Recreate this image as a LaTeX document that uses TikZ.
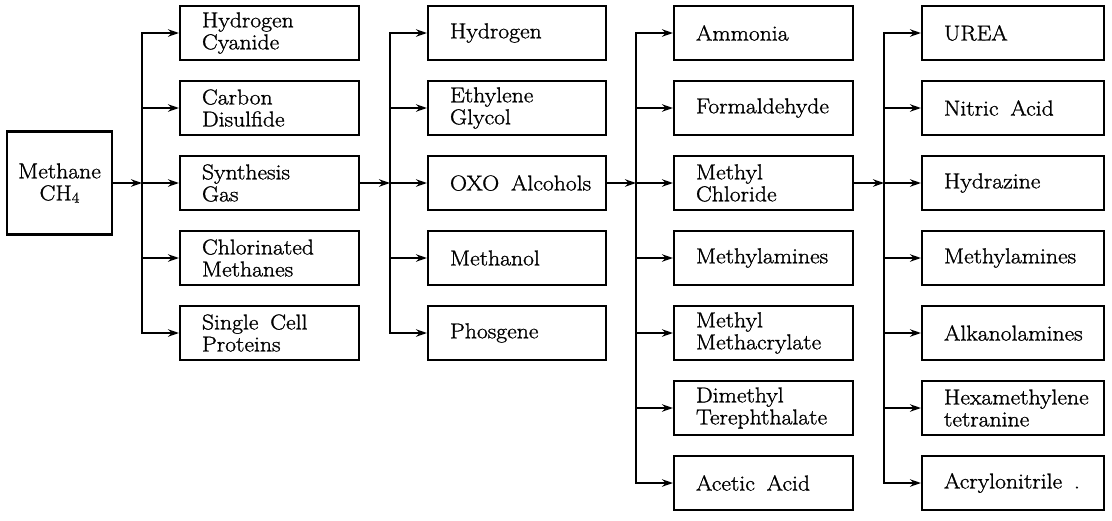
\documentclass[tikz,border=0pt]{standalone}
\usepackage{fontspec}
\usetikzlibrary{arrows.meta}
% slightly widened, slightly heavier roman for the labels
\newfontfamily\labelfont{Latin Modern Roman}[FakeBold=1.2, FakeStretch=1.1]
\newcommand{\gap}{\hspace{0.55em}}
\begin{document}
\begin{tikzpicture}[x=1pt,y=-1pt,
  box/.style={draw, line width=2.1pt, minimum height=54pt, inner xsep=22pt,
    inner ysep=0pt, text width=#1, align=left,
    font=\labelfont\fontsize{21.5}{22}\selectfont},
  box/.default=135pt,
  link/.style={line width=1.6pt},
  bus/.style={link, line cap=rect},
  feed/.style={link, -{Stealth[length=11pt,width=7.5pt]}}
]
\useasboundingbox (0,0) rectangle (1112,520);

% source
\node[draw, line width=2.1pt, minimum width=105pt, minimum height=103pt,
  inner sep=0pt, align=center, font=\labelfont\fontsize{21.5}{22}\selectfont]
  (ch4) at (59.5,183) {Methane\\CH\raisebox{-0.25ex}{\fontsize{15}{15}\selectfont 4}};

% first generation
\node[box] (hcn)  at (269.5,33)  {Hydrogen\\Cyanide};
\node[box] (cs2)  at (269.5,108) {Carbon\\Disulfide};
\node[box] (syn)  at (269.5,183) {Synthesis\\Gas};
\node[box] (clm)  at (269.5,258) {Chlorinated\\Methanes};
\node[box] (scp)  at (269.5,333) {Single\gap Cell\\Proteins};

% from synthesis gas
\node[box=134pt] (h2)   at (517,33)  {Hydrogen};
\node[box=134pt] (eg)   at (517,108) {Ethylene\\Glycol};
\node[box=134pt] (oxo)  at (517,183) {\mbox{OXO\gap Alcohols}};
\node[box=134pt] (meoh) at (517,258) {Methanol};
\node[box=134pt] (phos) at (517,333) {Phosgene};

% from OXO alcohols
\node[box] (nh3)  at (763.5,33)  {Ammonia};
\node[box] (form) at (763.5,108) {Formaldehyde};
\node[box] (mecl) at (763.5,183) {Methyl\\Chloride};
\node[box] (mam)  at (763.5,258) {Methylamines};
\node[box] (mma)  at (763.5,333) {Methyl\\Methacrylate};
\node[box] (dmt)  at (763.5,408) {Dimethyl\\Terephthalate};
\node[box] (acet) at (763.5,483) {\mbox{Acetic\gap Acid}};

% from methyl chloride
\node[box=138pt] (urea) at (1013,33)  {UREA};
\node[box=138pt] (hno3) at (1013,108) {\mbox{Nitric\gap Acid}};
\node[box=138pt] (hydz) at (1013,183) {Hydrazine};
\node[box=138pt] (mam2) at (1013,258) {Methylamines};
\node[box=138pt] (alka) at (1013,333) {Alkanolamines};
\node[box=138pt] (hexa) at (1013,408) {Hexamethylene\\tetranine};
\node[box=138pt] (acn)  at (1013,483) {\mbox{Acrylonitrile\gap .}};

% distribution buses
\coordinate (v1) at (142,0);
\coordinate (v2) at (390,0);
\coordinate (v3) at (636,0);
\coordinate (v4) at (884,0);

\draw[bus] (v1 |- hcn.west) -- (v1 |- scp.west);
\draw[bus] (v2 |- h2.west)  -- (v2 |- phos.west);
\draw[bus] (v3 |- nh3.west) -- (v3 |- acet.west);
\draw[bus] (v4 |- urea.west) -- (v4 |- acn.west);

% inputs to each bus
\draw[feed] (ch4.east) -- (v1 |- ch4.east);
\draw[feed] (syn.east) -- (v2 |- syn.east);
\draw[feed] (oxo.east) -- (v3 |- oxo.east);
\draw[feed] (mecl.east) -- (v4 |- mecl.east);

% branches
\foreach \n in {hcn,cs2,syn,clm,scp}
  \draw[feed] (v1 |- \n.west) -- (\n.west);
\foreach \n in {h2,eg,oxo,meoh,phos}
  \draw[feed] (v2 |- \n.west) -- (\n.west);
\foreach \n in {nh3,form,mecl,mam,mma,dmt,acet}
  \draw[feed] (v3 |- \n.west) -- (\n.west);
\foreach \n in {urea,hno3,hydz,mam2,alka,hexa,acn}
  \draw[feed] (v4 |- \n.west) -- (\n.west);
\end{tikzpicture}
\end{document}
